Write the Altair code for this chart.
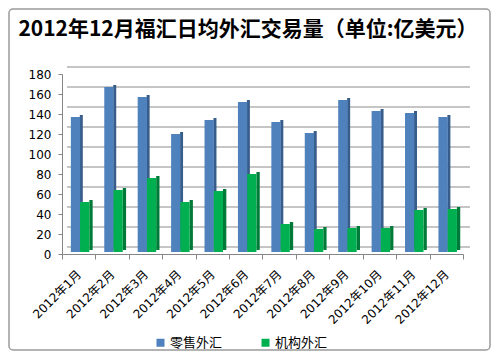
import altair as alt
import pandas as pd

months = ["2012年1月", "2012年2月", "2012年3月", "2012年4月", "2012年5月", "2012年6月",
          "2012年7月", "2012年8月", "2012年9月", "2012年10月", "2012年11月", "2012年12月"]
retail = [135, 165, 155, 118, 132, 150, 130, 119, 152, 141, 139, 135]
inst = [50, 62, 74, 50, 61, 78, 28, 23, 24, 24, 42, 43]
series = ["零售外汇", "机构外汇"]
yticks = [0, 20, 40, 60, 80, 100, 120, 140, 160, 180]
title_text = "2012年12月福汇日均外汇交易量（单位:亿美元）"

BLUE, BLUE_SIDE = "#4F81BD", "#385D8A"
GREEN, GREEN_SIDE = "#00B050", "#007A38"
FONT = "DejaVu Sans, Noto Sans CJK SC"

df = pd.DataFrame({"month": months, "零售外汇": retail, "机构外汇": inst})
long = df.melt("month", var_name="series", value_name="value")

yaxis = alt.Axis(title=None, values=yticks, grid=False, tickSize=4,
                 labelFont=FONT, labelFontSize=12, labelColor="#000",
                 labelPadding=7, domainColor="#868686", tickColor="#868686")
xenc = alt.X("month:N", sort=months,
             scale=alt.Scale(paddingInner=0, paddingOuter=0),
             axis=alt.Axis(title=None, labelAngle=-45, labelAlign="right",
                           labelBaseline="middle", labelPadding=13, tickBand="extent",
                           tickSize=5, labelFont=FONT, labelFontSize=12,
                           labelColor="#000", domainColor="#868686", tickColor="#868686"))
yscale = alt.Scale(domain=[0, 180])
yenc = alt.Y("value:Q", scale=yscale, axis=yaxis)

color = alt.Color("series:N", scale=alt.Scale(domain=series, range=[BLUE, GREEN]),
                  legend=alt.Legend(title=None, orient="none", legendX=92, legendY=262,
                                    direction="horizontal", symbolType="square",
                                    symbolSize=64, symbolStrokeWidth=0,
                                    labelFont="Noto Sans CJK SC", labelFontSize=13,
                                    labelColor="#000", columnPadding=36, labelOffset=3))

grid = alt.Chart(pd.DataFrame({"value": yticks})).mark_rule(
    color="#8c8c8c", strokeWidth=1, yOffset=-7
).encode(y=yenc, x=alt.value(5), x2=alt.value(408))

base = alt.Chart(long)
r = base.transform_filter(alt.datum.series == "零售外汇")
g = base.transform_filter(alt.datum.series == "机构外汇")

blue_side = r.mark_bar(width=3, xOffset=2.6, yOffset=-4, color=BLUE_SIDE).encode(x=xenc, y=yenc)
blue_front = r.mark_bar(width=9.3, xOffset=-3.2, yOffset=-2).encode(x=xenc, y=yenc, color=color)
green_side = g.mark_bar(width=3.3, xOffset=12.3, yOffset=-4, color=GREEN_SIDE).encode(x=xenc, y=yenc)
green_front = g.mark_bar(width=9.3, xOffset=6, yOffset=-2).encode(x=xenc, y=yenc, color=color)

one = pd.DataFrame({"t": [title_text]})
title = alt.Chart(one).mark_text(
    font="Noto Sans CJK SC", fontSize=21, fontWeight="bold", color="#000",
    align="center", baseline="middle"
).encode(text="t:N", x=alt.value(186), y=alt.value(-44))

border = alt.Chart(one).mark_rect(
    fill=None, stroke="#9a9a9a", strokeWidth=1.5, cornerRadius=4
).encode(x=alt.value(-53), x2=alt.value(428), y=alt.value(-65), y2=alt.value(276))

chart = alt.layer(border, grid, blue_side, blue_front, green_side, green_front, title).properties(
    width=401, height=180,
    autosize=alt.AutoSizeParams(type="none"),
    padding={"left": 54, "top": 66, "right": 30, "bottom": 99},
    background="white",
).configure_view(stroke=None).configure_legend(labelFontSize=13, labelFont="Noto Sans CJK SC")

chart.save("out.html", embed_options={"renderer": "svg", "actions": False})
